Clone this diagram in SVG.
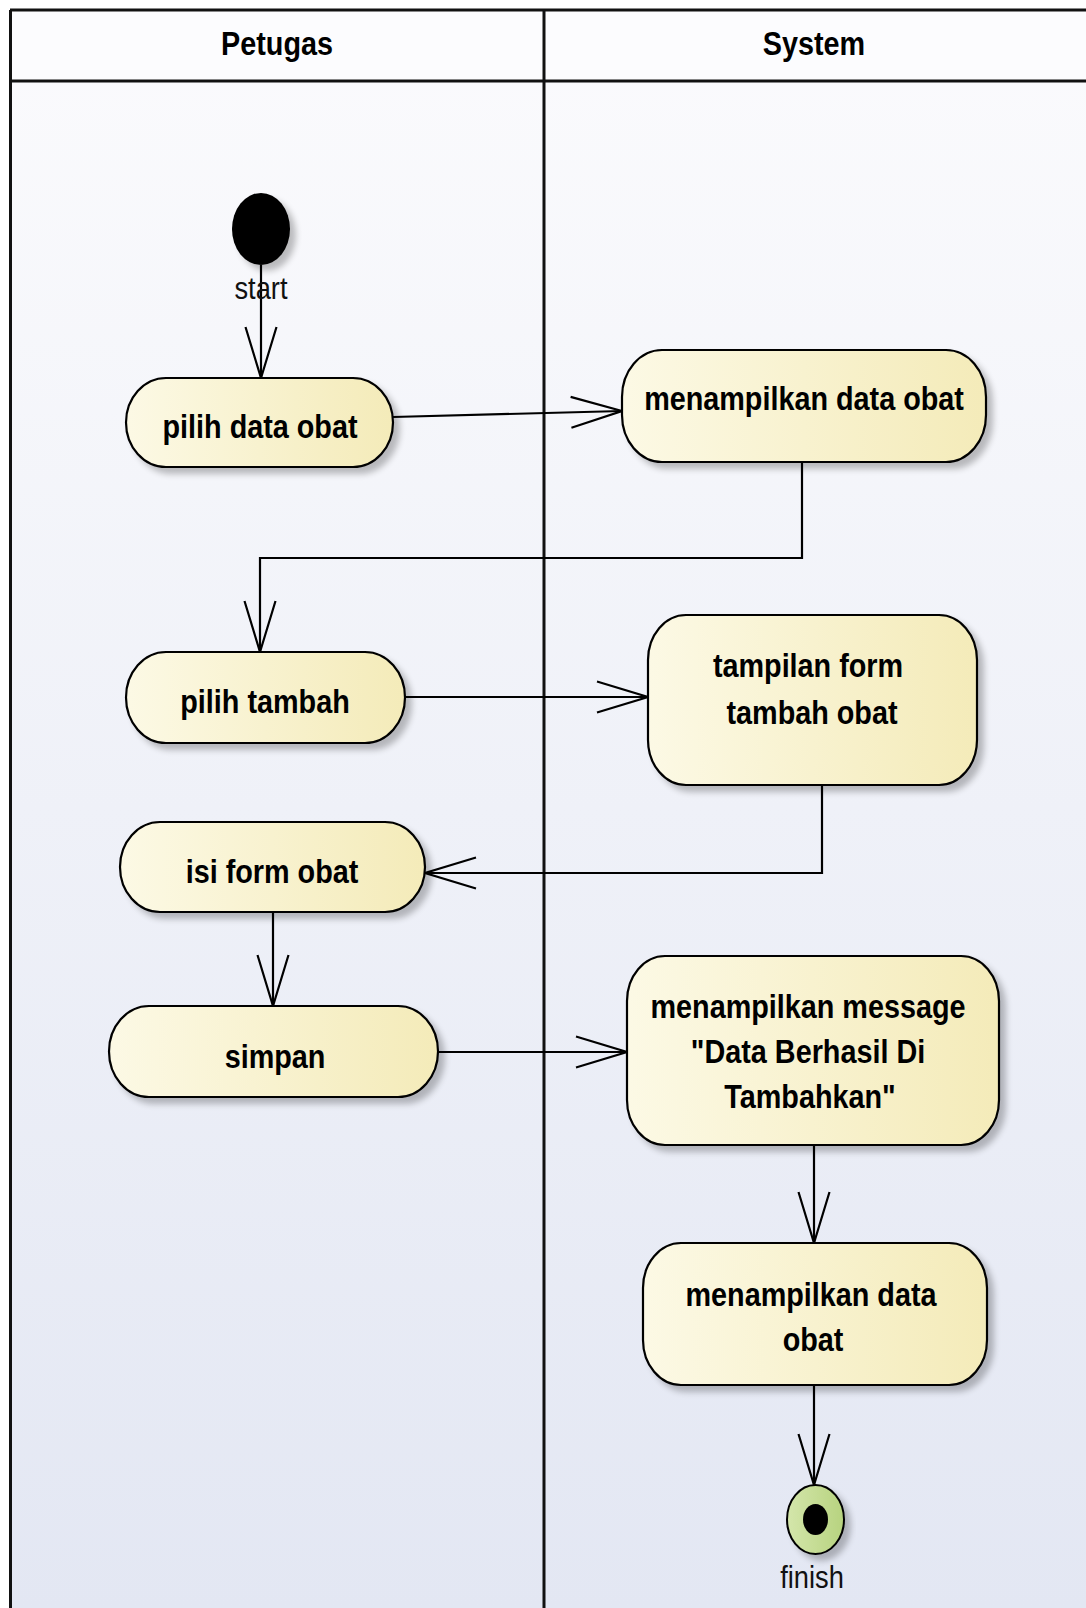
<svg xmlns="http://www.w3.org/2000/svg" width="1086" height="1608" viewBox="0 0 1086 1608">
  <defs>
    <linearGradient id="laneBg" x1="0" y1="0" x2="0" y2="1">
      <stop offset="0" stop-color="#fbfbfd"/>
      <stop offset="1" stop-color="#e3e7f3"/>
    </linearGradient>
    <linearGradient id="actFill" x1="0" y1="0" x2="1" y2="0">
      <stop offset="0" stop-color="#fcf9e5"/>
      <stop offset="1" stop-color="#f4ebb9"/>
    </linearGradient>
    <linearGradient id="endFill" x1="0" y1="0" x2="1" y2="0">
      <stop offset="0" stop-color="#d4e6ab"/>
      <stop offset="1" stop-color="#b7d37f"/>
    </linearGradient>
    <filter id="shadow" x="-10%" y="-20%" width="130%" height="150%">
      <feGaussianBlur in="SourceAlpha" stdDeviation="3"/>
      <feOffset dx="6" dy="6" result="b"/>
      <feComponentTransfer><feFuncA type="linear" slope="0.25"/></feComponentTransfer>
      <feMerge><feMergeNode/><feMergeNode in="SourceGraphic"/></feMerge>
    </filter>
    <marker id="open" markerUnits="userSpaceOnUse" viewBox="-53 -18 56 36" refX="0" refY="0" markerWidth="56" markerHeight="36" orient="auto">
      <path d="M-51,-15.5 L0,0 L-51,15.5" fill="none" stroke="#000" stroke-width="2.2"/>
    </marker>
  </defs>
  <style>
    .lane { stroke: #111; stroke-width: 3; fill: none; }
    .act { fill: url(#actFill); stroke: #000; stroke-width: 2.2; filter: url(#shadow); }
    .lbl { font-family: "Liberation Sans", Arial, sans-serif; font-weight: bold; font-size: 33px; fill: #000; text-anchor: middle; }
    .cap { font-family: "Liberation Sans", Arial, sans-serif; font-size: 31px; fill: #111; text-anchor: middle; }
    .flow { fill: none; stroke: #000; stroke-width: 2.2; marker-end: url(#open); }
  </style>

  <!-- swimlanes -->
  <g id="lanes">
    <rect x="0" y="0" width="1086" height="1608" fill="#ffffff"/>
    <rect x="10" y="10" width="1076" height="1598" fill="url(#laneBg)"/>
    <rect x="10" y="10" width="1076" height="71" fill="#fcfcfe"/>
    <line class="lane" x1="10" y1="10" x2="1086" y2="10"/>
    <line class="lane" x1="10" y1="81" x2="1086" y2="81"/>
    <line class="lane" x1="10.5" y1="10" x2="10.5" y2="1608"/>
    <line class="lane" x1="544" y1="10" x2="544" y2="1608"/>
    <text class="lbl" transform="matrix(0.872 0 0 1 277 55)">Petugas</text>
    <text class="lbl" transform="matrix(0.872 0 0 1 814 55)">System</text>
  </g>

  <!-- control flows -->
  <g id="connectors">
    <path class="flow" d="M261,265 V378"/>
    <path class="flow" d="M393,417 L622,411"/>
    <path class="flow" d="M802,462 V558 H260 V652"/>
    <path class="flow" d="M405,697 H648"/>
    <path class="flow" d="M822,785 V873 H425"/>
    <path class="flow" d="M273,912 V1006"/>
    <path class="flow" d="M438,1052 H627"/>
    <path class="flow" d="M814,1145 V1243"/>
    <path class="flow" d="M814,1385 V1485"/>
  </g>

  <g id="start">
    <ellipse cx="261" cy="229" rx="29" ry="36" fill="#000" filter="url(#shadow)"/>
    <text class="cap" transform="matrix(0.88 0 0 1 261 299)">start</text>
  </g>

  <g id="pilih-data-obat">
    <rect class="act" x="126" y="378" width="267" height="89" rx="40" ry="44.5"/>
    <text class="lbl" transform="matrix(0.872 0 0 1 260 438)">pilih data obat</text>
  </g>

  <g id="menampilkan-data-obat">
    <rect class="act" x="622" y="350" width="364" height="112" rx="40" ry="47"/>
    <text class="lbl" transform="matrix(0.872 0 0 1 804 410)">menampilkan data obat</text>
  </g>

  <g id="pilih-tambah">
    <rect class="act" x="126" y="652" width="279" height="91" rx="40" ry="45.5"/>
    <text class="lbl" transform="matrix(0.872 0 0 1 265 713)">pilih tambah</text>
  </g>

  <g id="tampilan-form">
    <rect class="act" x="648" y="615" width="329" height="170" rx="38" ry="45"/>
    <text class="lbl" transform="matrix(0.872 0 0 1 808 677)">tampilan form</text>
    <text class="lbl" transform="matrix(0.872 0 0 1 812 724)">tambah obat</text>
  </g>

  <g id="isi-form-obat">
    <rect class="act" x="120" y="822" width="305" height="90" rx="40" ry="45"/>
    <text class="lbl" transform="matrix(0.872 0 0 1 272 883)">isi form obat</text>
  </g>

  <g id="simpan">
    <rect class="act" x="109" y="1006" width="329" height="91" rx="40" ry="45.5"/>
    <text class="lbl" transform="matrix(0.872 0 0 1 275 1068)">simpan</text>
  </g>

  <g id="menampilkan-message">
    <rect class="act" x="627" y="956" width="372" height="189" rx="38" ry="45"/>
    <text class="lbl" transform="matrix(0.872 0 0 1 808 1018)">menampilkan message</text>
    <text class="lbl" transform="matrix(0.872 0 0 1 808 1063)">"Data Berhasil Di</text>
    <text class="lbl" transform="matrix(0.872 0 0 1 810 1108)">Tambahkan"</text>
  </g>

  <g id="menampilkan-data-obat-2">
    <rect class="act" x="643" y="1243" width="344" height="142" rx="38" ry="45"/>
    <text class="lbl" transform="matrix(0.872 0 0 1 811 1306)">menampilkan data</text>
    <text class="lbl" transform="matrix(0.872 0 0 1 813 1351)">obat</text>
  </g>

  <g id="finish">
    <ellipse cx="815.5" cy="1519.5" rx="28.5" ry="34.5" fill="url(#endFill)" stroke="#000" stroke-width="2" filter="url(#shadow)"/>
    <ellipse cx="815.5" cy="1519.5" rx="12.5" ry="15.5" fill="#000"/>
    <text class="cap" transform="matrix(0.88 0 0 1 812 1588)">finish</text>
  </g>
</svg>
